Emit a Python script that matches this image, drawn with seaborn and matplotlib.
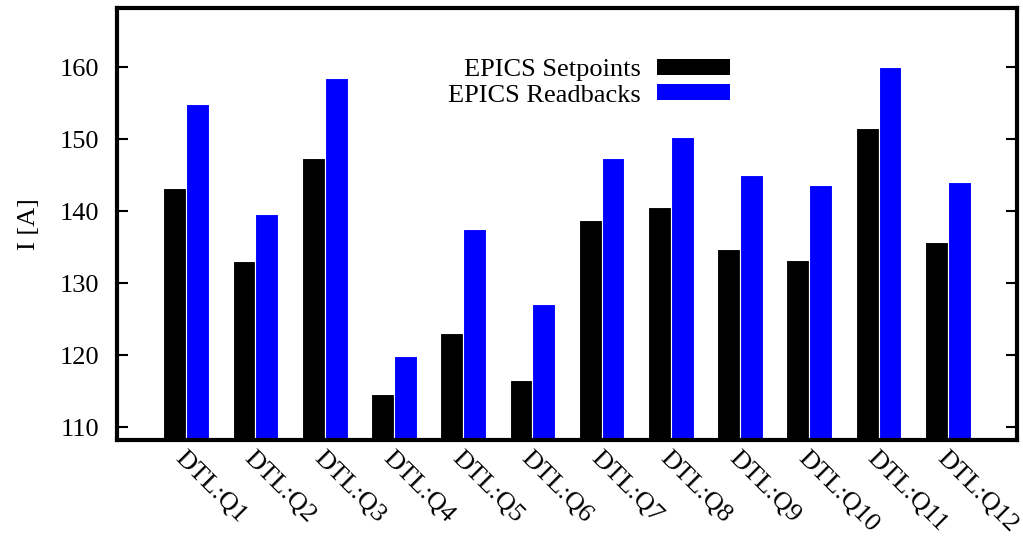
import matplotlib
matplotlib.use("Agg")
import matplotlib.pyplot as plt
import seaborn as sns
import pandas as pd
from matplotlib.patches import Patch

categories = ["DTL:Q1", "DTL:Q2", "DTL:Q3", "DTL:Q4", "DTL:Q5", "DTL:Q6",
              "DTL:Q7", "DTL:Q8", "DTL:Q9", "DTL:Q10", "DTL:Q11", "DTL:Q12"]
setpoints = [143.2, 133.1, 147.4, 114.6, 123.1, 116.5,
             138.8, 140.6, 134.7, 133.2, 151.5, 135.7]
readbacks = [154.9, 139.6, 158.5, 119.9, 137.5, 127.1,
             147.4, 150.3, 145.0, 143.6, 160.0, 144.0]
series_names = ["EPICS Setpoints", "EPICS Readbacks"]
y_ticks = [110, 120, 130, 140, 150, 160]

df = pd.DataFrame({
    "cat": categories * 2,
    "val": setpoints + readbacks,
    "series": [series_names[0]] * len(categories) + [series_names[1]] * len(categories),
})

sns.set_style("white")
plt.rcParams['font.family'] = ['Liberation Serif', 'DejaVu Serif']
plt.rcParams['text.color'] = 'black'
plt.rcParams['axes.labelcolor'] = 'black'
plt.rcParams['xtick.color'] = 'black'
plt.rcParams['ytick.color'] = 'black'
FS = 19

fig = plt.figure(figsize=(10.23, 5.38), dpi=100)
ax = fig.add_axes([117/1023, 1 - 440/538, (1017-117)/1023, (440-8)/538])

sns.barplot(data=df, x="cat", y="val", hue="series", palette=["black", "blue"],
            width=0.66, ax=ax, edgecolor="white", linewidth=0.8, legend=False,
            saturation=1)

ax.set_xlim(-1, 12)
ax.set_ylim(108.2, 168.2)
ax.set_yticks(y_ticks)
ax.set_yticklabels([str(t) for t in y_ticks], fontsize=FS)
ax.tick_params(axis='y', direction='in', length=8, width=1.5, left=True, right=True, pad=13)
ax.tick_params(axis='x', length=0, pad=5)
ax.set_xticks(range(len(categories)))
ax.set_xticklabels(categories, fontsize=FS, rotation=-45, ha='left', va='top',
                   rotation_mode='anchor')
ax.set_xlabel("")
ax.set_ylabel("I [A]", fontsize=FS, labelpad=14)
for s in ax.spines.values():
    s.set_linewidth(3)
    s.set_color("black")
    s.set_visible(True)

handles = [Patch(facecolor="black", edgecolor="none"), Patch(facecolor="blue", edgecolor="none")]
leg = ax.legend(handles, series_names, loc="upper right", bbox_to_anchor=(730/1023, 1 - 59/538),
                bbox_transform=fig.transFigure, frameon=False, fontsize=FS,
                markerfirst=False, handlelength=2.77, handleheight=0.55,
                handletextpad=0.6, labelspacing=0.12, borderpad=0, borderaxespad=0)

fig.savefig("out.png", dpi=100)
